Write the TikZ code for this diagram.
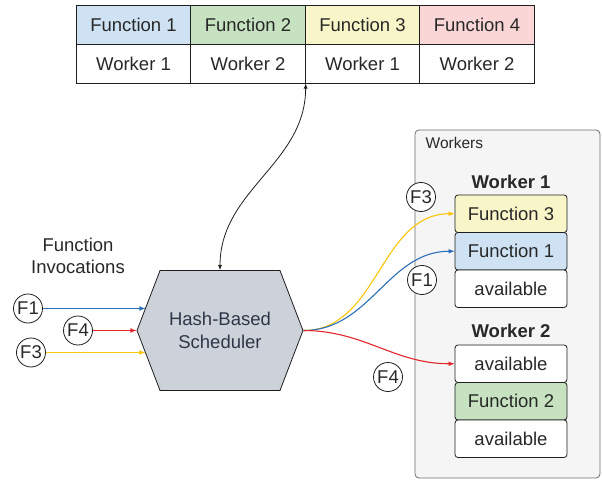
\documentclass[tikz,border=0pt]{standalone}
\usepackage{fontspec}
\setmainfont{Liberation Sans}
\usepackage{tikz}
\usetikzlibrary{calc,shapes.symbols,arrows,positioning}
\definecolor{myblue}{RGB}{207,226,243}
\definecolor{mygreen}{RGB}{198,226,192}
\definecolor{myyellow}{RGB}{248,246,200}
\definecolor{mypink}{RGB}{250,214,214}
\definecolor{myslate}{RGB}{205,210,218}
\definecolor{mybg}{RGB}{245,245,245}
\definecolor{mytext}{RGB}{40,40,40}
\definecolor{myhextext}{RGB}{45,55,72}
\definecolor{myline}{RGB}{30,30,30}
\definecolor{mygray}{RGB}{110,110,110}
\definecolor{lineblue}{RGB}{41,111,186}
\definecolor{linered}{RGB}{227,38,42}
\definecolor{lineyellow}{RGB}{250,196,10}
\tikzstyle{cell}=[draw=myline,minimum width=114.5pt,minimum height=39pt,inner sep=0pt]
\tikzstyle{slot}=[draw=myline,fill=white,rounded corners=3pt,minimum width=112pt,minimum height=37.5pt,inner sep=0pt]
\tikzstyle{tag}=[draw=myline,fill=white,circle,minimum size=29pt,inner sep=0pt]
\tikzstyle{flow}=[-latex,line width=1.1pt]

\begin{document}
\begin{tikzpicture}[x=1pt,y=-1pt,line width=0.8pt,text=mytext,
  font=\fontsize{18.5}{22.5}\selectfont]
\useasboundingbox (0,0) rectangle (602,481);
% mapping table
\draw (133.5, 24.5) node [cell, fill=myblue] (tf1) {Function 1};
\draw (248, 24.5) node [cell, fill=mygreen] (tf2) {Function 2};
\draw (362.5, 24.5) node [cell, fill=myyellow] (tf3) {Function 3};
\draw (477, 24.5) node [cell, fill=mypink] (tf4) {Function 4};
\draw (133.5, 63.5) node [cell] (tw1) {Worker 1};
\draw (248, 63.5) node [cell] (tw2) {Worker 2};
\draw (362.5, 63.5) node [cell] (tw3) {Worker 1};
\draw (477, 63.5) node [cell] (tw4) {Worker 2};
% workers
\draw (507.5, 304) node [draw=mygray, fill=mybg, rounded corners=4pt,
  minimum width=185pt, minimum height=348pt] (workers) {};
\draw (422, 143) node [anchor=west, font=\fontsize{15.5}{18}\selectfont] (wlabel) {Workers};
\draw (511, 182) node [font=\fontsize{18.5}{22}\bfseries] (w1) {Worker 1};
\draw (511, 213.75) node [slot, fill=myyellow] (s1) {Function 3};
\draw (511, 251.25) node [slot, fill=myblue] (s2) {Function 1};
\draw (511, 288.75) node [slot] (s3) {available};
\draw (511, 331) node [font=\fontsize{18.5}{22}\bfseries] (w2) {Worker 2};
\draw (511, 363.75) node [slot] (s4) {available};
\draw (511, 401.25) node [slot, fill=mygreen] (s5) {Function 2};
\draw (511, 438.75) node [slot] (s6) {available};
% scheduler
\draw (220, 330.5) node [signal, signal to=west and east, signal pointer angle=138,
  draw=myline, fill=myslate, minimum width=166pt, minimum height=120pt,
  inner sep=0pt, align=center, text=myhextext] (sched) {Hash-Based\\Scheduler};
\draw (78, 256) node [align=center] (inv) {Function\\Invocations};
\draw (28, 308.5) node [tag] (i1) {F1};
\draw (78, 330.5) node [tag] (i4) {F4};
\draw (31, 352.5) node [tag] (i3) {F3};
\draw (421, 197) node [tag] (o3) {F3};
\draw (422, 280) node [tag] (o1) {F1};
\draw (388, 377) node [tag] (o4) {F4};
\coordinate (h1) at (145.5, 308.5);
\coordinate (h3) at (145.5, 352.5);
\draw[flow, lineblue] (i1) -- (h1);
\draw[flow, linered] (i4) -- (sched.west);
\draw[flow, lineyellow] (i3) -- (h3);
\draw[flow, lineyellow] (sched.east) to [out=0, in=180] (s1.west);
\draw[flow, lineblue] (sched.east) to [out=0, in=180] (s2.west);
\draw[flow, linered] (sched.east) to [out=0, in=180] (s4.west);
\draw[latex-latex, myline] (tw2.south east) to [out=-90, in=90] (sched.north);
\end{tikzpicture}
\end{document}
